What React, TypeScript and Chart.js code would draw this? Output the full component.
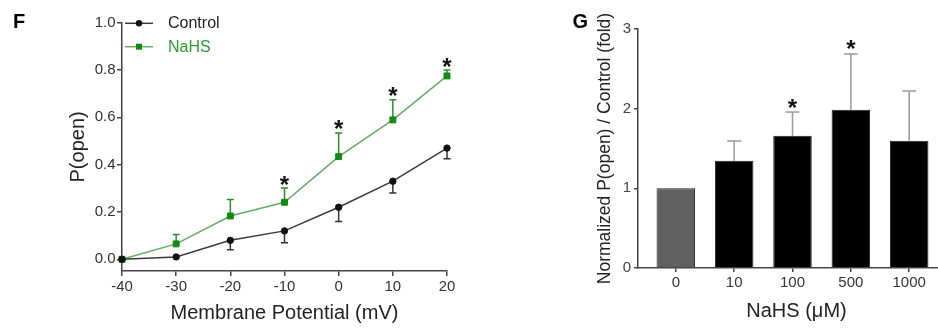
import React, { useEffect, useRef } from "react";
import { Chart, registerables } from "chart.js";

Chart.register(...registerables);

// ---------- Panel F data ----------
const potentials = [-40, -30, -20, -10, 0, 10, 20];
const controlPopen = [0.0, 0.01, 0.08, 0.12, 0.22, 0.33, 0.47];
const controlSem = [0, 0, 0.04, 0.05, 0.06, 0.05, 0.045];
const nahsPopen = [0.0, 0.065, 0.183, 0.241, 0.434, 0.589, 0.775];
const nahsSem = [0, 0.04, 0.07, 0.06, 0.1, 0.085, 0.025];
const nahsSig = [false, false, false, true, true, true, true];
const xTicksF = [-40, -30, -20, -10, 0, 10, 20];
const yTicksF = [0, 0.2, 0.4, 0.6, 0.8, 1.0];

// ---------- Panel G data ----------
const doses = ["0", "10", "100", "500", "1000"];
const foldValues = [1.0, 1.347, 1.66, 1.987, 1.598];
const foldSem = [0, 0.247, 0.297, 0.7, 0.624];
const foldSig = [false, false, true, true, false];
const yTicksG = [0, 1, 2, 3];

const FONT = "'Liberation Sans', Arial, Helvetica, sans-serif";
Chart.defaults.font.family = FONT;

const errorBarPlugin = {
  id: "errorBars",
  beforeDatasetsDraw(chart: any) {
    const ctx = chart.ctx;
    const yScale = chart.scales.y;
    chart.data.datasets.forEach((ds: any, di: number) => {
      if (!ds.errors) return;
      const meta = chart.getDatasetMeta(di);
      ctx.save();
      ctx.strokeStyle = ds.errorColor;
      ctx.lineWidth = ds.errorWidth || 1.5;
      meta.data.forEach((el: any, i: number) => {
        const e = ds.errors[i];
        if (!e) return;
        const v = ds.data[i].y;
        const end = yScale.getPixelForValue(v + ds.errorDir * e);
        const start = yScale.getPixelForValue(v);
        const cap = ds.errorCap || 3.5;
        ctx.beginPath();
        ctx.moveTo(el.x, start);
        ctx.lineTo(el.x, end);
        ctx.moveTo(el.x - cap, end);
        ctx.lineTo(el.x + cap, end);
        ctx.stroke();
      });
      ctx.restore();
    });
  },
};

const asteriskPlugin = {
  id: "asterisks",
  afterDatasetsDraw(chart: any, _args: any, opts: any) {
    const ctx = chart.ctx;
    const yScale = chart.scales.y;
    chart.data.datasets.forEach((ds: any, di: number) => {
      if (!ds.sig) return;
      const meta = chart.getDatasetMeta(di);
      ctx.save();
      ctx.fillStyle = "#111";
      ctx.font = `bold ${opts.size || 24}px ${FONT}`;
      ctx.textAlign = "center";
      ctx.textBaseline = "alphabetic";
      const m = ctx.measureText("*");
      const asc = m.actualBoundingBoxAscent;
      const desc = m.actualBoundingBoxDescent;
      meta.data.forEach((el: any, i: number) => {
        if (!ds.sig[i]) return;
        const v = ds.data[i].y + (ds.errors ? ds.errors[i] : 0);
        const cy = yScale.getPixelForValue(v) - (opts.gap || 8);
        ctx.fillText("*", el.x, cy + (asc - desc) / 2);
      });
      ctx.restore();
    });
  },
};

const legendPlugin = {
  id: "insideLegend",
  afterDraw(chart: any, _args: any, opts: any) {
    if (!opts || !opts.show) return;
    const ctx = chart.ctx;
    const { left, top } = chart.chartArea;
    const rows = [
      { ds: chart.data.datasets[0], y: top + 0.6, text: "#222" },
      { ds: chart.data.datasets[1], y: top + 24, text: "#2f9a2f" },
    ];
    rows.forEach((r) => {
      const x0 = left + 3;
      const x1 = left + 31;
      const xm = (x0 + x1) / 2;
      ctx.save();
      ctx.strokeStyle = r.ds.borderColor;
      ctx.lineWidth = 1.5;
      ctx.beginPath();
      ctx.moveTo(x0, r.y);
      ctx.lineTo(x1, r.y);
      ctx.stroke();
      ctx.fillStyle = r.ds.pointBackgroundColor;
      if (r.ds.pointStyle === "rect") {
        ctx.fillRect(xm - 3, r.y - 3, 6, 6);
      } else {
        ctx.beginPath();
        ctx.arc(xm, r.y, 3.2, 0, Math.PI * 2);
        ctx.fill();
      }
      ctx.fillStyle = r.text;
      ctx.font = `16px ${FONT}`;
      ctx.textAlign = "left";
      ctx.textBaseline = "middle";
      ctx.fillText(r.ds.label, left + 46, r.y + 0.5);
      ctx.restore();
    });
  },
};

const panelLabelPlugin = {
  id: "panelLabel",
  afterDraw(chart: any, _args: any, opts: any) {
    if (!opts || !opts.text) return;
    const ctx = chart.ctx;
    ctx.save();
    ctx.fillStyle = "#000";
    ctx.font = `bold 20px ${FONT}`;
    ctx.textAlign = "left";
    ctx.textBaseline = "alphabetic";
    ctx.fillText(opts.text, opts.x, opts.y);
    ctx.restore();
  },
};

const axisColor = "#444";
const tickColor = "#333";

export default function App() {
  const refF = useRef<HTMLCanvasElement>(null);
  const refG = useRef<HTMLCanvasElement>(null);

  useEffect(() => {
    const chartF = new Chart(refF.current as HTMLCanvasElement, {
      type: "line",
      data: {
        datasets: [
          {
            label: "Control",
            data: potentials.map((x, i) => ({ x, y: controlPopen[i] })),
            borderColor: "#3a3a3a",
            borderWidth: 1.5,
            pointStyle: "circle",
            pointRadius: 3.2,
            pointBackgroundColor: "#111",
            pointBorderColor: "#111",
            pointBorderWidth: 1,
            clip: false,
            errors: controlSem,
            errorDir: -1,
            errorColor: "#333",
          } as any,
          {
            label: "NaHS",
            data: potentials.map((x, i) => ({ x, y: nahsPopen[i] })),
            borderColor: "#66aa66",
            borderWidth: 1.5,
            pointStyle: "rect",
            pointRadius: 4.2,
            pointBackgroundColor: "#138a13",
            pointBorderColor: "#138a13",
            pointBorderWidth: 1,
            clip: false,
            errors: nahsSem,
            errorDir: 1,
            errorColor: "#2a8f2a",
            sig: nahsSig,
          } as any,
        ],
      },
      options: {
        animation: false,
        responsive: false,
        devicePixelRatio: 1,
        layout: { padding: { top: 22.7, right: 33, left: 0, bottom: 0 } },
        plugins: {
          legend: { display: false },
          tooltip: { enabled: false },
          insideLegend: { show: true },
          asterisks: { size: 24, gap: 8 },
          panelLabel: { text: "F", x: 13, y: 28 },
        } as any,
        scales: {
          x: {
            type: "linear",
            min: -40,
            max: 20,
            afterBuildTicks: (s: any) => {
              s.ticks = xTicksF.map((v) => ({ value: v }));
            },
            afterFit: (s: any) => {
              s.height = 329 - 271.1;
            },
            ticks: { color: tickColor, font: { size: 15 }, padding: 2, maxRotation: 0 },
            grid: { drawOnChartArea: false, drawTicks: true, tickLength: 5, color: axisColor, lineWidth: 1.5 },
            border: { display: true, color: axisColor, width: 1.5 },
            title: {
              display: true,
              text: "Membrane Potential (mV)",
              color: "#222",
              font: { size: 20 },
              padding: { top: 0, bottom: 4 },
            },
          },
          y: {
            type: "linear",
            min: -0.05,
            max: 1.0,
            afterBuildTicks: (s: any) => {
              s.ticks = yTicksF.map((v) => ({ value: v }));
            },
            afterFit: (s: any) => {
              s.width = 122;
            },
            ticks: {
              color: tickColor,
              font: { size: 15 },
              padding: 1.5,
              callback: (v: any) => Number(v).toFixed(1),
            },
            grid: { drawOnChartArea: false, drawTicks: true, tickLength: 5, color: axisColor, lineWidth: 1.5 },
            border: { display: true, color: axisColor, width: 1.5 },
            title: {
              display: true,
              text: "P(open)",
              color: "#222",
              font: { size: 20 },
              padding: { top: 66, bottom: 0 },
            },
          },
        },
      } as any,
      plugins: [errorBarPlugin, asteriskPlugin, legendPlugin, panelLabelPlugin],
    });

    const chartG = new Chart(refG.current as HTMLCanvasElement, {
      type: "bar",
      data: {
        datasets: [
          {
            label: "P(open) fold",
            data: doses.map((_, i) => ({ x: i, y: foldValues[i] })),
            backgroundColor: ["#606060", "#000", "#000", "#000", "#000"],
            borderColor: "#222",
            borderWidth: 1,
            barPercentage: 0.66,
            categoryPercentage: 1,
            errors: foldSem,
            errorDir: 1,
            errorColor: "#9a9a9a",
            errorCap: 7,
            sig: foldSig,
          } as any,
        ],
      },
      options: {
        animation: false,
        responsive: false,
        devicePixelRatio: 1,
        layout: { padding: { top: 29, right: 0, left: 0, bottom: 0 } },
        plugins: {
          legend: { display: false },
          tooltip: { enabled: false },
          asterisks: { size: 24, gap: 9 },
          panelLabel: { text: "G", x: 12.5, y: 28 },
        } as any,
        scales: {
          x: {
            type: "linear",
            offset: false,
            min: -0.648,
            max: 4.785,
            afterBuildTicks: (s: any) => {
              s.ticks = doses.map((_, i) => ({ value: i }));
            },
            afterFit: (s: any) => {
              s.height = 329 - 268;
            },
            ticks: {
              color: tickColor,
              font: { size: 15 },
              padding: 2,
              maxRotation: 0,
              callback: (v: any) => doses[v],
            },
            grid: { offset: false, drawOnChartArea: false, drawTicks: true, tickLength: 4, color: axisColor, lineWidth: 1.5 },
            border: { display: true, color: axisColor, width: 1.5 },
            title: {
              display: true,
              text: "NaHS (\u03bcM)",
              color: "#222",
              font: { size: 20 },
              padding: { top: 0, bottom: 5.3 },
            },
          },
          y: {
            type: "linear",
            min: 0,
            max: 3,
            afterBuildTicks: (s: any) => {
              s.ticks = yTicksG.map((v) => ({ value: v }));
            },
            afterFit: (s: any) => {
              s.width = 78;
            },
            ticks: { color: "#444", font: { size: 15 }, padding: 3, callback: (v: any) => String(v) },
            grid: { drawOnChartArea: false, drawTicks: true, tickLength: 4, color: axisColor, lineWidth: 1.5 },
            border: { display: true, color: axisColor, width: 1.5 },
            title: {
              display: true,
              text: "Normalized P(open) / Control (fold)",
              color: "#222",
              font: { size: 17.5 },
              padding: { top: 35, bottom: 0 },
            },
          },
        },
      } as any,
      plugins: [errorBarPlugin, asteriskPlugin, panelLabelPlugin],
    });

    return () => {
      chartF.destroy();
      chartG.destroy();
    };
  }, []);

  return (
    <div
      style={{
        position: "fixed",
        left: 0,
        top: 0,
        width: 938,
        height: 329,
        overflow: "hidden",
        background: "#fff",
      }}
    >
      <canvas
        ref={refF}
        width={480}
        height={329}
        style={{ position: "absolute", left: 0, top: 0, width: 480, height: 329 }}
      />
      <canvas
        ref={refG}
        width={395}
        height={329}
        style={{ position: "absolute", left: 560, top: 0, width: 395, height: 329 }}
      />
    </div>
  );
}
